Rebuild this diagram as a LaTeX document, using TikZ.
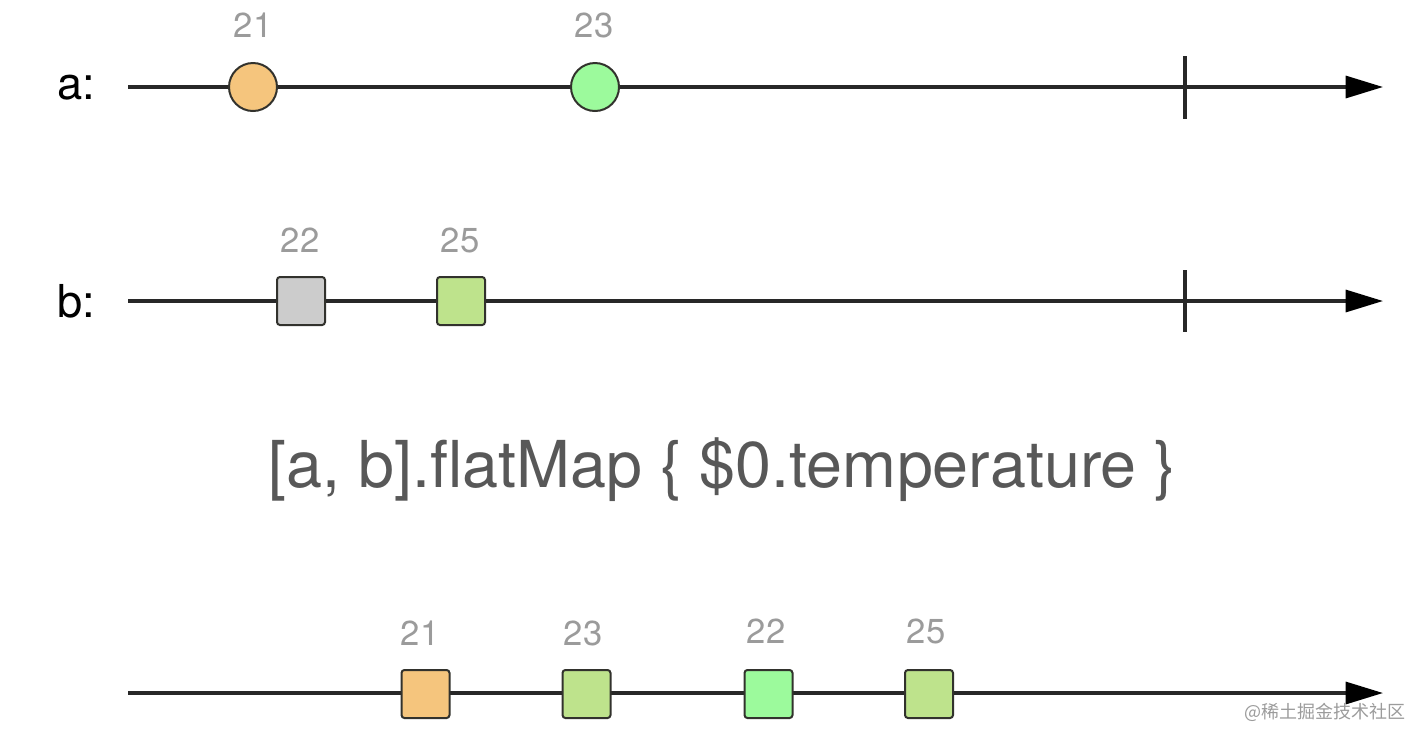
\documentclass[tikz,border=0pt]{standalone}
\usepackage{fontspec}
\setmainfont{TeX Gyre Heros}
\newfontfamily\cjk{Noto Sans CJK SC}
\usetikzlibrary{arrows.meta}

\definecolor{lineGray}{RGB}{40,40,40}
\definecolor{edgeGray}{RGB}{50,50,45}
\definecolor{valueGray}{RGB}{155,155,155}
\definecolor{titleGray}{RGB}{88,88,88}
\definecolor{orangeFill}{RGB}{245,197,125}
\definecolor{greenFill}{RGB}{156,250,156}
\definecolor{grayFill}{RGB}{204,204,204}
\definecolor{limeFill}{RGB}{190,227,140}

\tikzset{every picture/.style={line width=0.75pt}}
\tikzset{
  timeline/.style={color=lineGray, line width=2.4pt, -{Triangle[length=28pt,width=16.5pt,color=black]}},
  endtick/.style={color=lineGray, line width=2.4pt},
  marble/.style={circle, draw=edgeGray, line width=1.5pt, minimum size=36pt, inner sep=0pt},
  tile/.style={rectangle, rounded corners=2.2pt, draw=edgeGray, line width=1.5pt, minimum size=36pt, inner sep=0pt},
  value/.style={text=valueGray, font=\fontsize{26}{28}\selectfont, inner sep=0.75pt},
  streamname/.style={anchor=west, font=\fontsize{34}{36}\selectfont, inner sep=0.75pt}
}

\begin{document}
\begin{tikzpicture}[x=0.75pt,y=0.75pt,yscale=-1,xscale=1]
\useasboundingbox (0,0) rectangle (1428,744);

%Stream a
\coordinate (astart) at (128,87);
\coordinate (aend) at (1383,87);
\coordinate (atop) at (1185,56);
\coordinate (abot) at (1185,119);
\draw [timeline] (astart) -- (aend);
\draw [endtick] (atop) -- (abot);
\node [marble, fill=orangeFill] (a21) at (253,87) {};
\node [marble, fill=greenFill] (a23) at (595,87) {};

%Stream b
\coordinate (bstart) at (128,301);
\coordinate (bend) at (1383,301);
\coordinate (btop) at (1185,270);
\coordinate (bbot) at (1185,332);
\draw [timeline] (bstart) -- (bend);
\draw [endtick] (btop) -- (bbot);
\node [tile, fill=grayFill] (b22) at (301,301) {};
\node [tile, fill=limeFill] (b25) at (461,301) {};

%Result stream
\coordinate (cstart) at (128,693);
\coordinate (cend) at (1383,693);
\draw [timeline] (cstart) -- (cend);
\node [tile, fill=orangeFill] (c21) at (425.5,694) {};
\node [tile, fill=limeFill] (c23) at (586.5,694) {};
\node [tile, fill=greenFill] (c22) at (768.5,694) {};
\node [tile, fill=limeFill] (c25) at (929,694) {};

% Text Node
\node [streamname] (aname) at (56,88) {a:};
% Text Node
\node [streamname] (bname) at (56,301.5) {b:};
% Text Node
\node [value] (la21) at (253,25.5) {21};
\node [value] (la23) at (594,25.5) {23};
\node [value] (lb22) at (300,240) {22};
\node [value] (lb25) at (460,240) {25};
\node [value] (lc21) at (420,633) {21};
\node [value] (lc23) at (583,633) {23};
\node [value] (lc22) at (766,631) {22};
\node [value] (lc25) at (926,631) {25};
% Text Node
\node [anchor=base, text=titleGray, font=\fontsize{48.5}{52}\selectfont, inner sep=0.75pt] (title) at (722.5,487) {[a, b].flatMap \{ \$0.temperature \}};
% Text Node
\node [anchor=east, text=valueGray, font=\cjk\fontsize{13.5}{15}\selectfont, inner sep=0.75pt] (mark) at (1407,712) {@稀土掘金技术社区};

\end{tikzpicture}
\end{document}
